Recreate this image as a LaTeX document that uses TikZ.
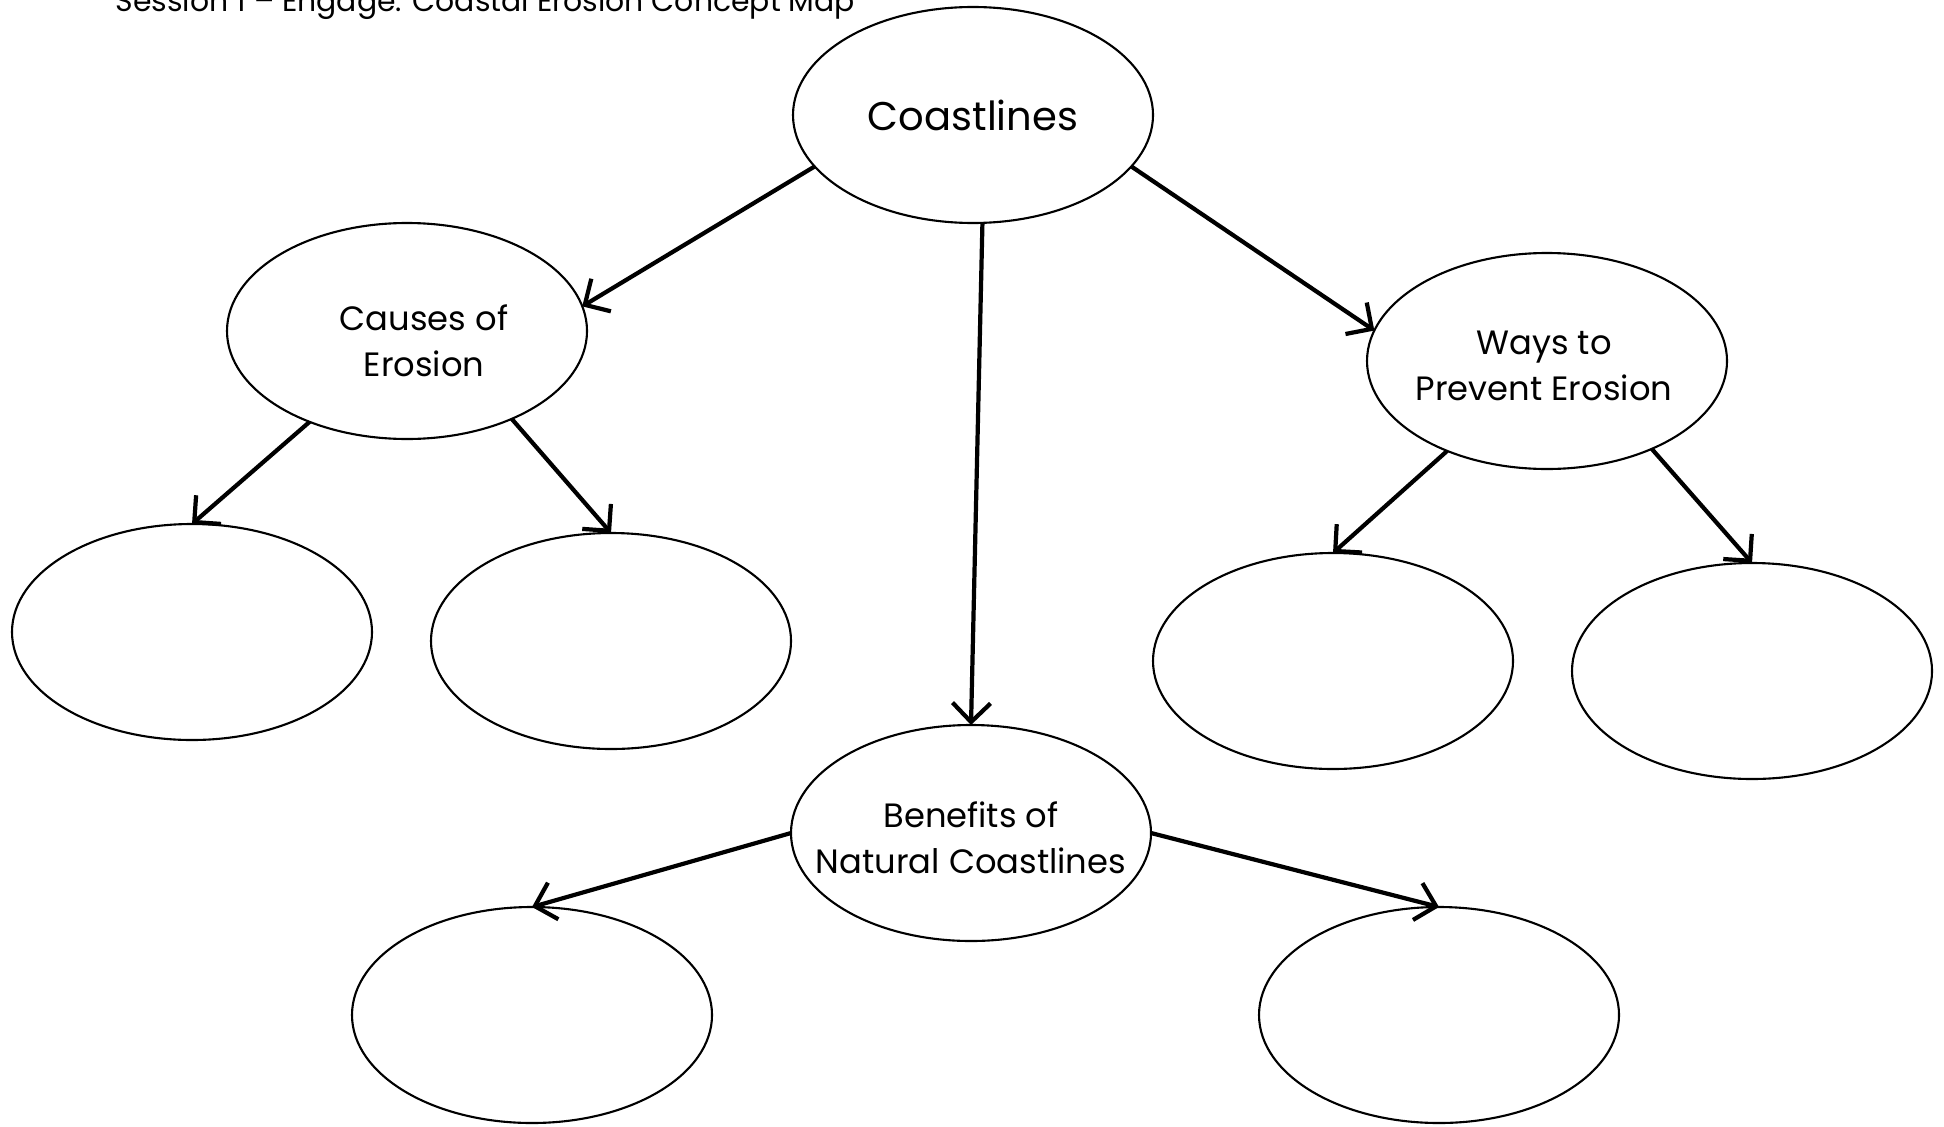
\documentclass[tikz,border=0pt]{standalone}
\usepackage{fontspec}
\setmainfont{Poppins}
\usetikzlibrary{arrows.meta,shapes.geometric}

\begin{document}
\begin{tikzpicture}[
  bubble/.style={draw, ellipse, line width=0.6pt, outer sep=0pt, inner sep=0pt,
    minimum width=3.6cm, minimum height=2.16cm},
  words/.style={align=center, inner sep=0pt, font=\fontsize{9.6}{13}\selectfont},
  link/.style={-{Straight Barb[length=1.9mm,width=3.8mm]}, line width=1.2pt}]
  \useasboundingbox (0,0) rectangle (19.44,-11.26);
  \node[anchor=base west, inner sep=0pt, font=\fontsize{8.5}{10}\selectfont] (title) at (1.15,-0.12)
    {Session 1 -- Engage: Coastal Erosion Concept Map};
  \node[bubble, label={[words, font=\fontsize{11.4}{14}\selectfont]center:Coastlines}] (coast) at (9.73,-1.15) {};
  \node[bubble, label={[words, xshift=0.17cm, yshift=-0.1cm]center:Causes of\\Erosion}] (causes) at (4.07,-3.31) {};
  \node[bubble, label={[words, xshift=-0.03cm, yshift=-0.05cm]center:Ways to\\Prevent Erosion}] (ways) at (15.47,-3.61) {};
  \node[bubble, label={[words, yshift=-0.05cm]center:Benefits of\\Natural Coastlines}] (benefits) at (9.71,-8.33) {};
  \node[bubble] (causesA) at (1.92,-6.32) {};
  \node[bubble] (causesB) at (6.11,-6.41) {};
  \node[bubble] (waysA) at (13.33,-6.61) {};
  \node[bubble] (waysB) at (17.52,-6.71) {};
  \node[bubble] (benefitsA) at (5.32,-10.15) {};
  \node[bubble] (benefitsB) at (14.39,-10.15) {};
  \path[link]
  (coast.198) edge (causes.8)
  (coast.275) edge (benefits.north)
  (coast.342) edge (ways.170)
  (causes.223) edge (causesA.north)
  (causes.320) edge (causesB.north)
  (ways.222) edge (waysA.north)
  (ways.320) edge (waysB.north)
  (benefits.west) edge (benefitsA.north)
  (benefits.east) edge (benefitsB.north);
\end{tikzpicture}
\end{document}
